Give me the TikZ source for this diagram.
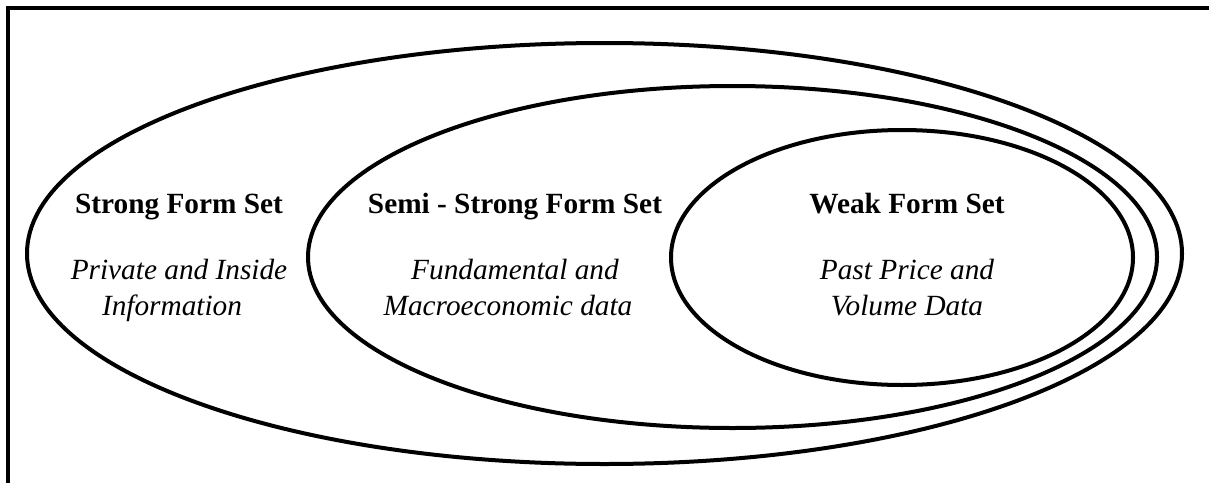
\documentclass[tikz,border=0pt]{standalone}
\usepackage{fontspec}
\setmainfont{Liberation Serif}
\begin{document}
\begin{tikzpicture}[x=1pt,y=-1pt,
  setellipse/.style={draw=black,line width=4pt},
  title/.style={anchor=base,inner sep=0pt,font=\fontsize{29.3}{36}\selectfont\bfseries},
  desc/.style={anchor=base,inner sep=0pt,font=\fontsize{29.3}{36}\selectfont\itshape}]
\useasboundingbox (0,0) rectangle (1209,482);
\draw[line width=4.5pt,line join=miter] (8,490) -- (8,8) -- (1215,8);
\draw[setellipse] (604.5,253.5) ellipse [x radius=577.5, y radius=210.5];
\draw[setellipse] (732.5,257) ellipse [x radius=424.5, y radius=171];
\draw[setellipse] (902,257.5) ellipse [x radius=231, y radius=127.5];
\node[title] (s1) at (179,213) {Strong Form Set};
\node[desc] (s2) at (179,279) {Private and Inside};
\node[desc] (s3) at (172,315) {Information};
\node[title] (m1) at (515,213) {Semi - Strong Form Set};
\node[desc] (m2) at (515,279) {Fundamental and};
\node[desc] (m3) at (508,315) {Macroeconomic data};
\node[title] (w1) at (907,213) {Weak Form Set};
\node[desc] (w2) at (907,279) {Past Price and};
\node[desc] (w3) at (907,315) {Volume Data};
\end{tikzpicture}
\end{document}
